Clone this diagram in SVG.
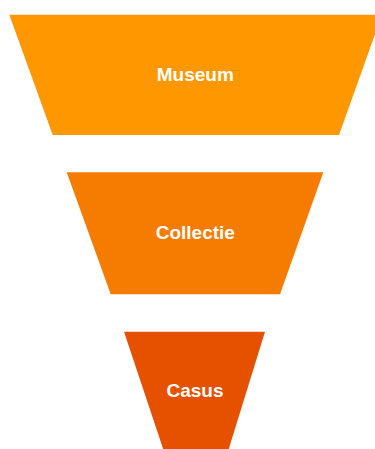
<svg xmlns="http://www.w3.org/2000/svg" width="375" height="449" viewBox="0 0 375 449">
<style>
.lbl{font-family:"Liberation Sans",Arial,sans-serif;font-weight:bold;font-size:19px;fill:#ffffff;text-anchor:middle}
</style>
<rect width="375" height="449" fill="#ffffff"/>
<g id="connectors"></g>
<g id="museum">
<polygon points="9.3,14.7 382,14.7 339,135 52.7,135" fill="#FF9800"/>
<text class="lbl" x="195.3" y="81">Museum</text>
</g>
<g id="collectie">
<polygon points="66.7,172.3 323.3,172.3 280,294.3 110.7,294.3" fill="#F57C00"/>
<text class="lbl" x="195.3" y="239.3">Collectie</text>
</g>
<g id="casus">
<polygon points="124,331.7 265,331.7 227.5,453 164.5,453" fill="#E65100"/>
<text class="lbl" x="195" y="397.3">Casus</text>
</g>
</svg>
